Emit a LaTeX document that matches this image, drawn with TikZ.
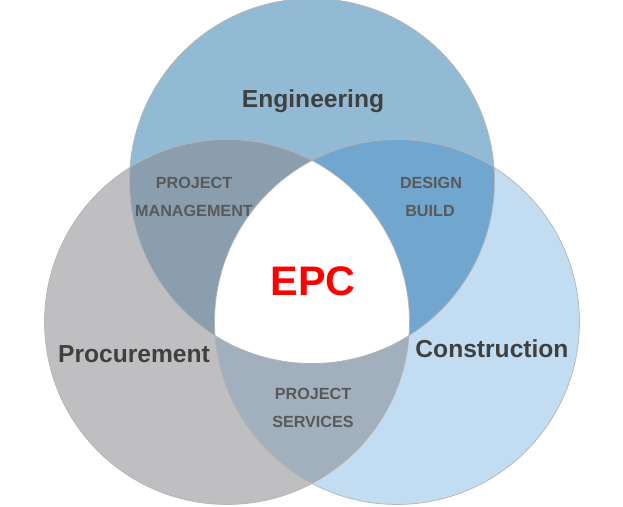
\documentclass[tikz,border=0pt]{standalone}
\usepackage{fontspec}
\setmainfont{Liberation Sans}
\usepackage{xcolor}
\definecolor{engblue}{HTML}{93BAD4}
\definecolor{procgray}{HTML}{BFBFC1}
\definecolor{conblue}{HTML}{C2DDF2}
\definecolor{pmgray}{HTML}{8A9EAE}
\definecolor{dbblue}{HTML}{71A7CF}
\definecolor{psgray}{HTML}{A2AFBC}
\definecolor{edgegray}{HTML}{B4B4B4}
\definecolor{labelgray}{HTML}{404040}
\definecolor{textgray}{HTML}{595959}
\definecolor{epcred}{HTML}{FF0000}
\def\R{3.65cm}

\begin{document}
\begin{tikzpicture}[x=0.02cm,y=-0.02cm,
    biglabel/.style={anchor=base, text=labelgray, font=\bfseries\fontsize{14}{16}\selectfont},
    smalllabel/.style={anchor=base, text=textgray, font=\bfseries\fontsize{9.2}{11}\selectfont}]
                \useasboundingbox (0,0) rectangle (623,507);
                \coordinate (E) at (312,181);
                \coordinate (P) at (227,322);
                \coordinate (C) at (397,322);
                % single circles
                \fill[engblue] (E) circle (\R);
                \fill[procgray] (P) circle (\R);
                \fill[conblue] (C) circle (\R);
                % pairwise overlaps
                \begin{scope}
                    \clip (E) circle (\R);
                    \fill[pmgray] (P) circle (\R);
                    \fill[dbblue] (C) circle (\R);
                \end{scope}
                \begin{scope}
                    \clip (P) circle (\R);
                    \fill[psgray] (C) circle (\R);
                \end{scope}
                % centre
                \begin{scope}
                    \clip (E) circle (\R);
                    \clip (P) circle (\R);
                    \fill[white] (C) circle (\R);
                \end{scope}
                \draw[edgegray, line width=0.4pt] (E) circle (\R);
                \draw[edgegray, line width=0.4pt] (P) circle (\R);
                \draw[edgegray, line width=0.4pt] (C) circle (\R);
                % labels
                \node[biglabel] (eng) at (313,108) {Engineering};
                \node[biglabel] (proc) at (134,362) {Procurement};
                \node[biglabel] (con) at (492,357) {Construction};
                \node[smalllabel] (pm1) at (194,188) {PROJECT};
                \node[smalllabel] (pm2) at (194,216) {MANAGEMENT};
                \node[smalllabel] (db1) at (431,188) {DESIGN};
                \node[smalllabel] (db2) at (430,216) {BUILD};
                \node[smalllabel] (ps1) at (313,399) {PROJECT};
                \node[smalllabel] (ps2) at (313,427) {SERVICES};
                \node[anchor=base, text=epcred, font=\bfseries\fontsize{23.5}{26}\selectfont] (epc) at (313,295) {EPC};
            \end{tikzpicture}
\end{document}
